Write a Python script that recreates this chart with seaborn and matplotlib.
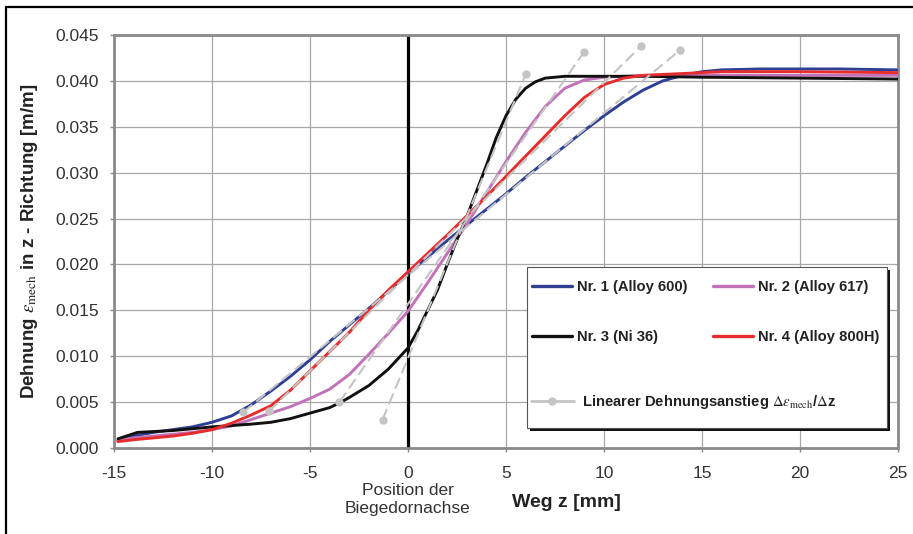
import seaborn as sns
import matplotlib.pyplot as plt
import matplotlib.transforms as mtransforms
from matplotlib.lines import Line2D
from matplotlib.patches import Rectangle
import numpy as np
import pandas as pd

sns.set_theme(style='white')
plt.rcParams['font.family'] = ['Liberation Sans', 'DejaVu Sans']
plt.rcParams['mathtext.fontset'] = 'stix'
plt.rcParams['axes.unicode_minus'] = False

# --- data ---
names = ['Nr. 1 (Alloy 600)', 'Nr. 2 (Alloy 617)', 'Nr. 3 (Ni 36)', 'Nr. 4 (Alloy 800H)']
colors = ['#2f3f94', '#c272b8', '#111111', '#e62c2c']

z1 = [-14.8, -14, -13, -12, -11, -10, -9, -8, -7, -6, -5, -4, -3, -2, -1, 0, 1, 2, 3, 4, 5, 6,
      7, 8, 9, 10, 11, 12, 13, 14, 15, 16, 18, 20, 22, 25]
e1 = [0.0008, 0.0013, 0.0017, 0.0020, 0.0023, 0.0028, 0.0035, 0.0047, 0.0062, 0.0078, 0.0096,
      0.0116, 0.0134, 0.0152, 0.0171, 0.0190, 0.0208, 0.0226, 0.0243, 0.0260, 0.0277, 0.0295,
      0.0312, 0.0329, 0.0346, 0.0362, 0.0377, 0.0390, 0.0400, 0.0406, 0.0410, 0.0412, 0.0413,
      0.0413, 0.0413, 0.0412]

z2 = [-14.8, -14, -13, -12, -11, -10, -9, -8, -7, -6, -5, -4, -3, -2, -1, 0, 1, 2, 3, 4, 5, 6,
      7, 8, 9, 10, 12, 15, 20, 25]
e2 = [0.0008, 0.0011, 0.0013, 0.0015, 0.0017, 0.0020, 0.0024, 0.0031, 0.0038, 0.0045, 0.0054,
      0.0064, 0.0080, 0.0102, 0.0125, 0.0149, 0.0180, 0.0212, 0.0244, 0.0278, 0.0312, 0.0344,
      0.0372, 0.0392, 0.0401, 0.0404, 0.0406, 0.0406, 0.0406, 0.0406]

z3 = [-14.8, -13.8, -12, -10, -8, -7, -6, -5, -4, -3.5, -3, -2, -1, 0, 0.5, 1, 1.5, 2, 2.5, 3,
      3.5, 4, 4.5, 5, 5.5, 6, 6.5, 7, 8, 12, 15, 20, 25]
e3 = [0.0010, 0.0017, 0.0019, 0.0023, 0.0026, 0.0028, 0.0032, 0.0038, 0.0044, 0.0049, 0.0055,
      0.0068, 0.0086, 0.0109, 0.0128, 0.0150, 0.0172, 0.0200, 0.0227, 0.0252, 0.0280, 0.0308,
      0.0338, 0.0362, 0.0380, 0.0392, 0.0399, 0.0403, 0.0405, 0.0405, 0.0404, 0.0403, 0.0402]

z4 = [-14.8, -14, -13, -12, -11, -10, -9, -8, -7, -6, -5, -4, -3, -2, -1, 0, 1, 2, 3, 4, 5, 6,
      7, 8, 9, 10, 11, 12, 14, 16, 20, 25]
e4 = [0.0007, 0.0009, 0.0011, 0.0013, 0.0016, 0.0020, 0.0027, 0.0036, 0.0046, 0.0063, 0.0084,
      0.0105, 0.0126, 0.0150, 0.0172, 0.0192, 0.0212, 0.0232, 0.0253, 0.0274, 0.0296, 0.0318,
      0.0340, 0.0362, 0.0382, 0.0396, 0.0403, 0.0406, 0.0408, 0.0410, 0.0410, 0.0409]

# linear strain increase (grey helper lines), start and end points
lin_z = [[-1.3, 6.0], [-3.5, 9.0], [-7.1, 11.9], [-8.4, 13.9]]
lin_e = [[0.0031, 0.0407], [0.0050, 0.0432], [0.0040, 0.0438], [0.0039, 0.0434]]

xticks = [-15, -10, -5, 0, 5, 10, 15, 20, 25]
yticks = [0.000, 0.005, 0.010, 0.015, 0.020, 0.025, 0.030, 0.035, 0.040, 0.045]

curves = pd.concat([
    pd.DataFrame({'z': z, 'eps': e, 'Nr': n})
    for z, e, n in zip([z1, z2, z3, z4], [e1, e2, e3, e4], names)
])
lin = pd.concat([
    pd.DataFrame({'z': z, 'eps': e, 'seg': i})
    for i, (z, e) in enumerate(zip(lin_z, lin_e))
])

fig = plt.figure(figsize=(9.13, 5.34), dpi=100)
ax = fig.add_axes([114 / 913, 1 - 448 / 534, 784 / 913, 413 / 534])

ax.axvline(0, color='black', lw=2.3, zorder=2)
sns.lineplot(data=curves, x='z', y='eps', hue='Nr', palette=dict(zip(names, colors)),
             sort=False, estimator=None, linewidth=2.1, legend=False, ax=ax, zorder=3)
sns.lineplot(data=lin, x='z', y='eps', units='seg', estimator=None, sort=False,
             color='#c4c4c4', linewidth=1.5, linestyle=(0, (5.5, 2.5)), marker='o',
             markersize=6, markeredgewidth=0, legend=False, ax=ax, zorder=4)

ax.set_xlim(-15, 25)
ax.set_ylim(0, 0.045)
ax.set_xticks(xticks)
ax.set_yticks(yticks)
ax.set_yticklabels([f'{v:.3f}' for v in yticks])
ax.grid(True, color='#a8a8a8', lw=0.9)
ax.set_axisbelow(True)
for s in ax.spines.values():
    s.set_color('#8a8a8a')
    s.set_linewidth(2.0)
ax.tick_params(axis='both', which='both', length=3, width=1, color='#8a8a8a',
               labelsize=12.5, labelcolor='#333333', left=True, bottom=True)
ax.tick_params(axis='x', pad=10)
ax.tick_params(axis='y', pad=8)
ax.set_xlabel('')
ax.set_ylabel('')

fig.text(29 / 913, 1 - 241 / 534, r'Dehnung $\varepsilon_{\mathrm{mech}}$ in z - Richtung [m/m]',
         rotation=90, ha='center', va='center', fontsize=13.5, fontweight='bold', color='#222222')
ax.text(0.577, -0.133, 'Weg z [mm]', transform=ax.transAxes, ha='center', va='center',
        fontsize=14, fontweight='bold', color='#222222')
trans = mtransforms.blended_transform_factory(ax.transData, ax.transAxes)
ax.text(0, -0.085, 'Position der\nBiegedornachse', transform=trans, ha='center', va='top',
        fontsize=12.5, color='#333333', linespacing=1.25)

# legend box with black shadow
def axc(px, py):
    return (px - 114) / 784, (448 - py) / 413

x0, y1 = axc(527, 267)
x1, y0 = axc(887, 428)
sh = 3 / 784
ax.add_patch(Rectangle((x0 + sh, y0 - 3 / 413), x1 - x0, y1 - y0, transform=ax.transAxes,
                       facecolor='#111111', edgecolor='none', zorder=5))
ax.add_patch(Rectangle((x0, y0), x1 - x0, y1 - y0, transform=ax.transAxes,
                       facecolor='white', edgecolor='#555555', lw=0.8, zorder=6))

handles = [Line2D([], [], color=c, lw=2.4) for c in colors]
order = [0, 2, 1, 3]
leg1 = ax.legend([handles[i] for i in order], [names[i] for i in order], ncol=2,
                 loc='upper left', bbox_to_anchor=axc(532, 280), frameon=False,
                 borderpad=0, borderaxespad=0, handlelength=2.7, handletextpad=0.35,
                 columnspacing=1.75, labelspacing=2.45,
                 prop={'weight': 'bold', 'size': 10.6})
leg1.set_zorder(7)
for t in leg1.get_texts():
    t.set_color('#222222')
ax.add_artist(leg1)

gh = Line2D([], [], color='#c4c4c4', lw=2.0, marker='o', markersize=6, markeredgewidth=0)
leg2 = ax.legend([gh], [r'Linearer Dehnungsanstieg $\Delta\varepsilon_{\mathrm{mech}}$/$\Delta$z'],
                 loc='center left', bbox_to_anchor=axc(531, 402), frameon=False,
                 borderpad=0, borderaxespad=0, handlelength=2.9, handletextpad=0.55,
                 prop={'weight': 'bold', 'size': 10.6})
leg2.set_zorder(7)
for t in leg2.get_texts():
    t.set_color('#222222')

# outer frame of the picture (left and top edges visible)
fig.add_artist(Line2D([6 / 913, 6 / 913], [0, 1 - 7 / 534], transform=fig.transFigure,
                      color='black', lw=1.6))
fig.add_artist(Line2D([6 / 913, 1], [1 - 7 / 534, 1 - 7 / 534], transform=fig.transFigure,
                      color='black', lw=1.6))

fig.savefig('out.png', dpi=100)
